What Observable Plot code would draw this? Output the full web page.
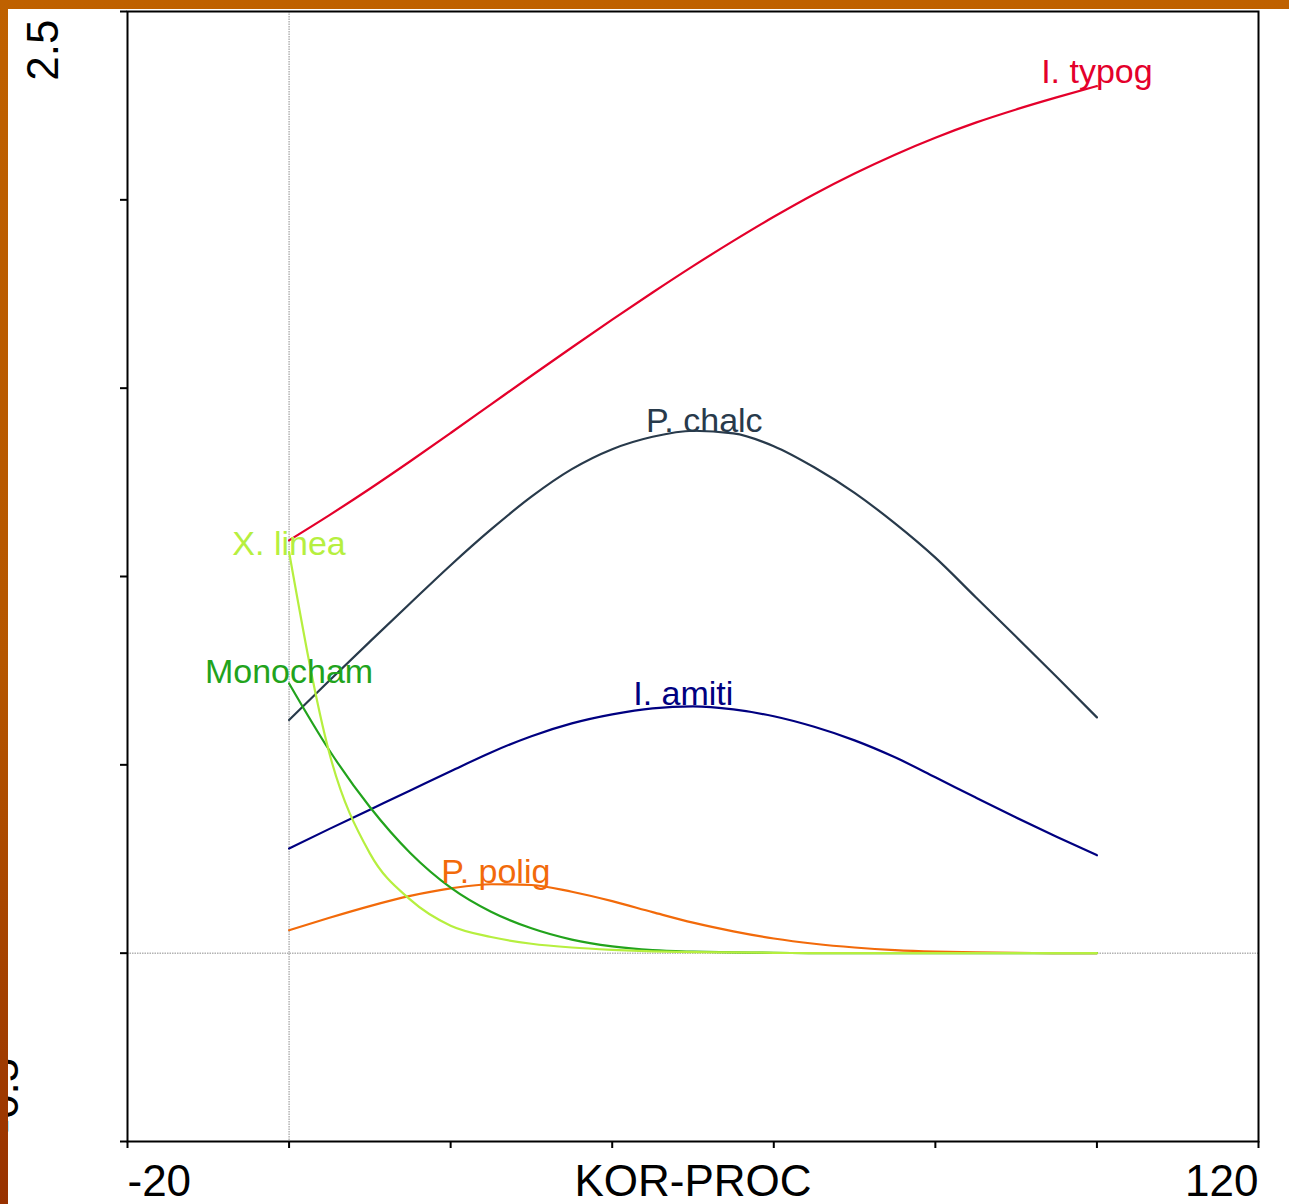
<!DOCTYPE html>
<html>
<head>
<meta charset="utf-8">
<script src="https://cdn.jsdelivr.net/npm/d3@7"></script>
<script src="https://cdn.jsdelivr.net/npm/@observablehq/plot@0.6"></script>
<style>
  html, body { margin: 0; padding: 0; }
  body {
    width: 1289px; height: 1204px; overflow: hidden; position: relative;
    background: linear-gradient(to bottom, #bf6100 0%, #b55600 55%, #983200 100%);
  }
  #chart {
    position: absolute; left: 8px; top: 9px; width: 1281px; height: 1195px;
    background: #ffffff; overflow: hidden;
  }
  #chart svg { display: block; overflow: visible; }
</style>
</head>
<body>
<div id="chart"></div>
<script>
// ---- data ----
const xs = [0, 5, 10, 15, 20, 25, 30, 35, 40, 45, 50, 55, 60, 65, 70, 75, 80, 85, 90, 95, 100];

const iTypog   = [1.096, 1.163, 1.233, 1.306, 1.381, 1.457, 1.533, 1.608, 1.682, 1.754, 1.824, 1.891, 1.955, 2.015, 2.070, 2.120, 2.165, 2.205, 2.240, 2.272, 2.302];
const pChalc   = [0.619, 0.724, 0.827, 0.929, 1.030, 1.125, 1.212, 1.285, 1.338, 1.371, 1.387, 1.380, 1.346, 1.290, 1.222, 1.141, 1.050, 0.945, 0.840, 0.734, 0.626];
const iAmiti   = [0.278, 0.330, 0.381, 0.432, 0.483, 0.533, 0.576, 0.610, 0.634, 0.650, 0.655, 0.647, 0.629, 0.601, 0.565, 0.520, 0.467, 0.413, 0.360, 0.309, 0.260];
const pPolig   = [0.061, 0.094, 0.125, 0.152, 0.172, 0.183, 0.181, 0.163, 0.138, 0.109, 0.081, 0.058, 0.039, 0.025, 0.015, 0.008, 0.004, 0.002, 0.001, 0.000, 0.000];
const monocham = [0.716, 0.538, 0.388, 0.266, 0.174, 0.110, 0.066, 0.036, 0.018, 0.008, 0.004, 0.002, 0.001, 0.000, 0.000, 0.000, 0.000, 0.000, 0.000, 0.000, 0.000];
const xLinea   = [1.065, 0.530, 0.265, 0.142, 0.073, 0.043, 0.025, 0.015, 0.009, 0.005, 0.003, 0.002, 0.001, 0.000, 0.000, 0.000, 0.000, 0.000, 0.000, 0.000, 0.000];

const seriesNames  = ["I. typog", "P. chalc", "I. amiti", "P. polig", "Monocham", "X. linea"];
const seriesColors = ["#e4002b", "#283a4b", "#000080", "#f26a0a", "#22a31c", "#b6ef3f"];
const labelX = [100, 51.4, 48.8, 25.6, 0, 0];
const labelY = [2.310, 1.383, 0.658, 0.186, 0.717, 1.057];

const xTicks = [-20, 0, 20, 40, 60, 80, 100, 120];
const yTicks = [-0.5, 0, 0.5, 1, 1.5, 2, 2.5];
const xTickLabels = [-20, 120];
const yTickLabels = [2.5, -0.5];
const xTitle = "KOR-PROC";

// ---- build tables ----
const seriesValues = [iTypog, pChalc, iAmiti, pPolig, monocham, xLinea];
const lineData = seriesNames.flatMap((s, k) => xs.map((x, i) => ({series: s, x, y: seriesValues[k][i]})));
const labelData = seriesNames.map((s, k) => ({series: s, x: labelX[k], y: labelY[k]}));

const font = "'Liberation Sans', Arial, Helvetica, sans-serif";
const axisSize = 44;

const chart = Plot.plot({
  width: 1281,
  height: 1195,
  marginLeft: 119,
  marginRight: 31,
  marginTop: 2,
  marginBottom: 63,
  x: {domain: [-20, 120]},
  y: {domain: [-0.5, 2.5]},
  color: {domain: seriesNames, range: seriesColors},
  style: {fontFamily: font, background: "transparent", color: "black", overflow: "visible"},
  marks: [
    Plot.ruleX([0], {stroke: "#8c8c8c", strokeWidth: 1, strokeDasharray: "1.5,1"}),
    Plot.ruleY([0], {stroke: "#8c8c8c", strokeWidth: 1, strokeDasharray: "1.5,1"}),
    Plot.line(lineData, {x: "x", y: "y", z: "series", stroke: "series", strokeWidth: 2.2, curve: "monotone-x"}),
    Plot.text(labelData, {x: "x", y: "y", text: "series", fill: "series", fontSize: 34, lineAnchor: "bottom", textAnchor: "middle"}),
    Plot.axisX({ticks: xTicks, tickSize: 7, tickFormat: () => "", label: null, stroke: "black", strokeWidth: 2}),
    Plot.axisY({ticks: yTicks, tickSize: 7, tickFormat: () => "", label: null, stroke: "black", strokeWidth: 2}),
    Plot.frame({stroke: "black", strokeWidth: 2}),
    Plot.text([xTickLabels[0]], {x: d => d, text: d => String(d), frameAnchor: "bottom", dy: 54, lineAnchor: "bottom", textAnchor: "start", fontSize: axisSize, fill: "black"}),
    Plot.text([xTickLabels[1]], {x: d => d, text: d => String(d), frameAnchor: "bottom", dy: 54, lineAnchor: "bottom", textAnchor: "end", fontSize: axisSize, fill: "black"}),
    Plot.text([xTitle], {text: d => d, frameAnchor: "bottom", dy: 54, lineAnchor: "bottom", textAnchor: "middle", fontSize: axisSize, fill: "black"}),
    Plot.text([yTickLabels[0]], {y: d => d, text: d => String(d), frameAnchor: "left", rotate: -90, textAnchor: "end", lineAnchor: "bottom", dx: -70, dy: 8, fontSize: axisSize, fill: "black"}),
    Plot.text([yTickLabels[1]], {y: d => d, text: d => String(d), frameAnchor: "left", rotate: -90, textAnchor: "start", lineAnchor: "bottom", dx: -110, dy: -8, fontSize: axisSize, fill: "black"})
  ]
});

document.getElementById("chart").appendChild(chart);
</script>
</body>
</html>
